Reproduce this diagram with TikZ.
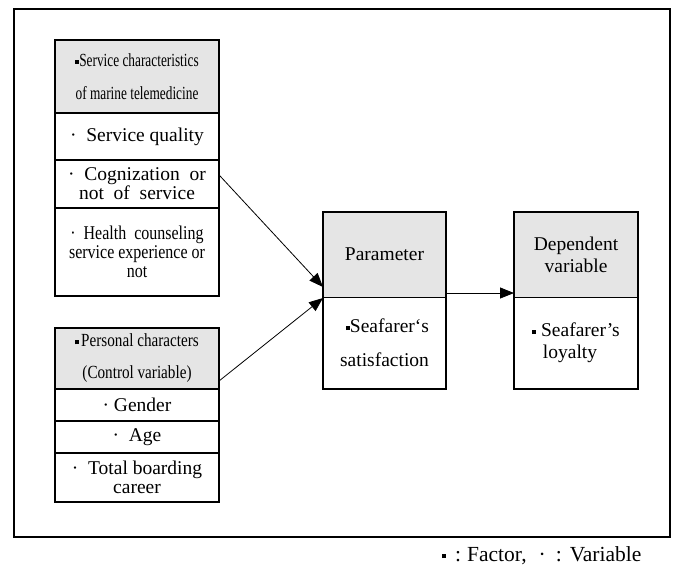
\documentclass[tikz,border=0pt]{standalone}
\usepackage{fontspec}
\setmainfont{LiberationSerif}[Extension=.ttf, UprightFont=*-Regular, BoldFont=*-Bold]
\newfontfamily\narrowserif{LiberationSerif}[Extension=.ttf, UprightFont=*-Regular, FakeStretch=0.72]
\newfontfamily\semiserif{LiberationSerif}[Extension=.ttf, UprightFont=*-Regular, FakeStretch=0.82]
\usetikzlibrary{arrows.meta,calc}
\definecolor{headgray}{HTML}{E5E5E5}
% small filled square used as the "factor" bullet
\newcommand\sqdot{\raisebox{0.3ex}{\rule{4pt}{4pt}}}

\begin{document}
\begin{tikzpicture}[x=1pt,y=-1pt,
  cell/.style={draw, line width=1.1pt, inner sep=0pt, outer sep=0pt,
    align=center, anchor=north west,
    font=\fontsize{19.5}{19}\selectfont},
  head/.style={cell, fill=headgray},
  boxline/.style={draw, line width=1.7pt},
  link/.style={line width=0.8pt, -{Triangle[length=14pt,width=11pt]}},
  frame/.style={draw, line width=2.4pt}
]
\useasboundingbox (0,0) rectangle (677,576);

% outer frame
\draw[frame] (14,9) rectangle (670,537);

% service characteristics box
\node[head, minimum width=164pt, minimum height=73pt,
  font=\fontsize{18.5}{33}\selectfont] (h1) at (55,40)
  {\narrowserif\sqdot Service characteristics\\\narrowserif of marine telemedicine};
\node[cell, minimum width=164pt, minimum height=47pt] (c1) at (h1.south west)
  {·\ \ Service quality};
\node[cell, minimum width=164pt, minimum height=48pt] (c2) at (c1.south west)
  {·\ \ Cognization\ \ or\\not\ \ of\ \ service};
\node[cell, minimum width=164pt, minimum height=88pt] (c3) at (c2.south west)
  {\semiserif·\ \ Health\ \ counseling\\\semiserif service experience or\\\semiserif not};
\draw[boxline] (h1.north west) rectangle (c3.south east);

% personal characters box
\node[head, minimum width=164pt, minimum height=61pt,
  font=\fontsize{18.5}{32}\selectfont] (h2) at (55,328)
  {\semiserif\sqdot\hspace{2pt}Personal characters\\\semiserif(Control variable)};
\node[cell, minimum width=164pt, minimum height=32pt] (p1) at (h2.south west)
  {·\ Gender};
\node[cell, minimum width=164pt, minimum height=32pt] (p2) at (p1.south west)
  {·\ \ Age};
\node[cell, minimum width=164pt, minimum height=49pt] (p3) at (p2.south west)
  {·\ \ Total boarding\\career};
\draw[boxline] (h2.north west) rectangle (p3.south east);

% parameter box
\node[head, line width=0.7pt, minimum width=123pt, minimum height=85pt] (ph) at (323,212)
  {Parameter};
\node[cell, line width=0.7pt, minimum width=123pt, minimum height=92pt,
  font=\fontsize{19.5}{34}\selectfont] (pb) at (ph.south west)
  {\hspace*{6pt}\sqdot Seafarer‘s\\satisfaction};
\draw[boxline] (ph.north west) rectangle (pb.south east);

% dependent variable box
\node[head, line width=0.7pt, minimum width=124pt, minimum height=85pt,
  font=\fontsize{19.5}{22}\selectfont] (dh) at (514,212)
  {Dependent\\variable};
\node[cell, line width=0.7pt, minimum width=124pt, minimum height=92pt,
  font=\fontsize{19.5}{22}\selectfont] (db) at (dh.south west)
  {\sqdot\ Seafarer’s\\loyalty\hspace*{12pt}};
\draw[boxline] (dh.north west) rectangle (db.south east);

% connectors
\coordinate (s1) at ($(c2.north east)!0.31!(c2.south east)$);
\coordinate (t1) at ($(ph.south west)+(0,-10)$);
\coordinate (s2) at ($(h2.south east)+(0,-8)$);
\coordinate (t2) at ($(pb.north west)+(0,1)$);
\coordinate (s3) at ($(ph.south east)+(0,-4)$);
\coordinate (t3) at ($(dh.south west)+(0,-4)$);
\draw[link] (s1) -- (t1);
\draw[link] (s2) -- (t2);
\draw[link] (s3) -- (t3);

% legend
\node[inner sep=0pt, font=\fontsize{21.5}{21.5}\selectfont, anchor=base west] (legend) at (442,561)
  {\sqdot\hspace{9pt}:\hspace{6pt}Factor,\hspace{12pt}·\hspace{10pt}:\hspace{8pt}Variable};
\end{tikzpicture}
\end{document}
